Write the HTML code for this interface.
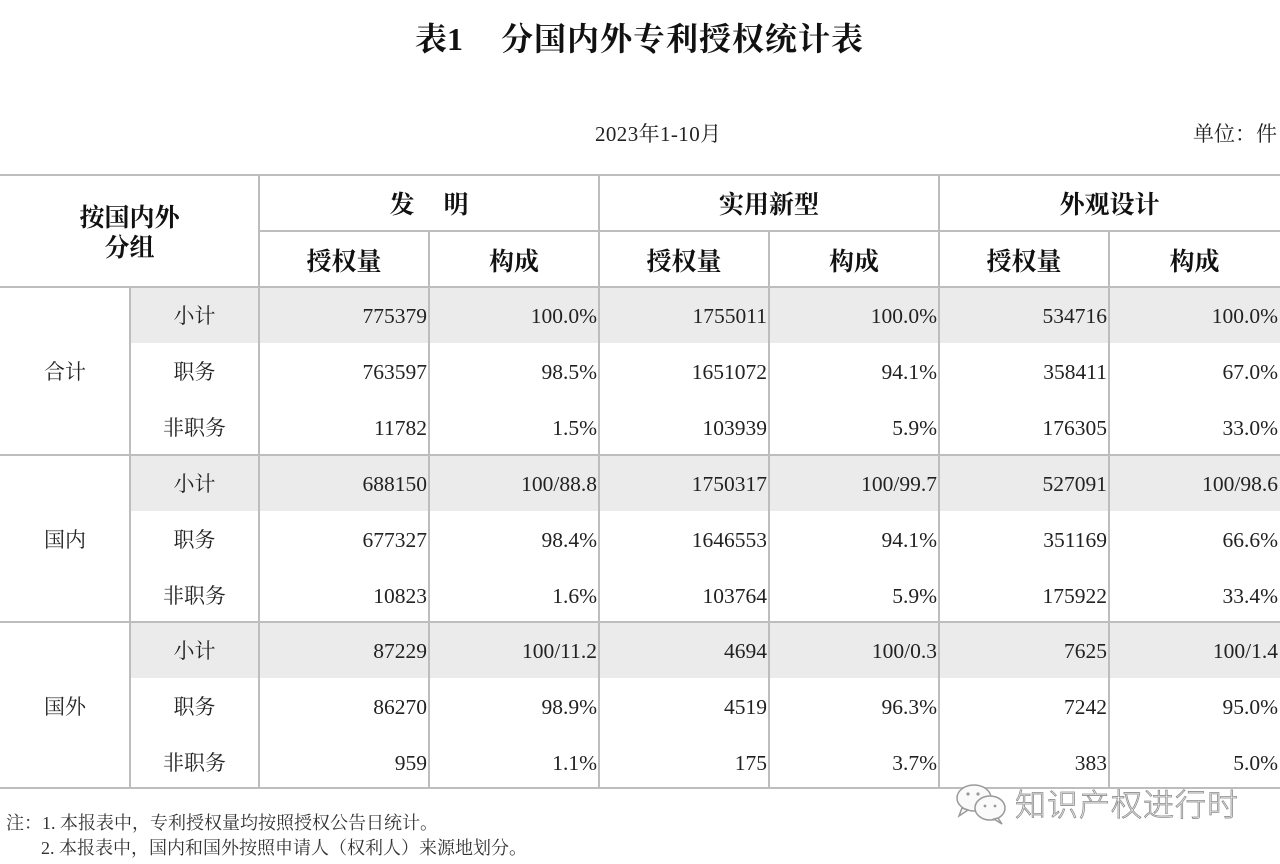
<!DOCTYPE html>
<html>
<head>
<meta charset="utf-8">
<style>
  html, body { margin:0; padding:0; background:#fff; }
  body { width:1280px; height:864px; position:relative; overflow:hidden;
         font-family:"Liberation Serif","Noto Serif CJK SC",serif; color:#1a1a1a; }
  .h { position:absolute; height:2px; background:#bdbdbd; }
  .v { position:absolute; width:2px; background:#bdbdbd; }
  .band { position:absolute; background:#ebebeb; }
  .t { position:absolute; height:30px; line-height:30px; white-space:nowrap; }
  .num { font-size:21.5px; text-align:right; color:#222; }
  .lab { font-size:21px; text-align:center; color:#222; }
  .hd { font-size:25px; font-weight:bold; text-align:center; color:#111; }
</style>
</head>
<body>

<!-- Title -->
<div class="t" style="left:415px; top:22px; height:34px; line-height:34px; font-size:32px; font-weight:bold; color:#111;">表1<span style="display:inline-block;width:38px;"></span><span style="letter-spacing:1px;">分国内外专利授权统计表</span></div>

<div class="t" style="left:595px; top:119px; font-size:21px; letter-spacing:0.4px; color:#222;">2023年1-10月</div>
<div class="t" style="left:1193px; top:119px; font-size:21px; color:#222;">单位：件</div>

<!-- gray bands -->
<div class="band" style="left:131px; top:288px; width:1149px; height:55px;"></div>
<div class="band" style="left:131px; top:456px; width:1149px; height:55px;"></div>
<div class="band" style="left:131px; top:623px; width:1149px; height:55px;"></div>

<!-- horizontal lines -->
<div class="h" style="left:0; top:174px; width:1280px;"></div>
<div class="h" style="left:259px; top:230px; width:1021px;"></div>
<div class="h" style="left:0; top:286px; width:1280px;"></div>
<div class="h" style="left:0; top:454px; width:1280px;"></div>
<div class="h" style="left:0; top:621px; width:1280px;"></div>
<div class="h" style="left:0; top:787px; width:1280px;"></div>

<!-- vertical lines -->
<div class="v" style="left:129px; top:287px; height:501px;"></div>
<div class="v" style="left:258px; top:175px; height:613px;"></div>
<div class="v" style="left:428px; top:231px; height:557px;"></div>
<div class="v" style="left:598px; top:175px; height:613px;"></div>
<div class="v" style="left:768px; top:231px; height:557px;"></div>
<div class="v" style="left:938px; top:175px; height:613px;"></div>
<div class="v" style="left:1108px; top:231px; height:557px;"></div>

<!-- header -->
<div class="t hd" style="left:0; top:204px; width:259px;">按国内外</div>
<div class="t hd" style="left:0; top:234px; width:259px;">分组</div>
<div class="t hd" style="left:259px; top:191px; width:340px;">发<span style="display:inline-block;width:29px;"></span>明</div>
<div class="t hd" style="left:599px; top:191px; width:340px;">实用新型</div>
<div class="t hd" style="left:939px; top:191px; width:341px;">外观设计</div>
<div class="t hd" style="left:259px; top:248px; width:170px;">授权量</div>
<div class="t hd" style="left:429px; top:248px; width:170px;">构成</div>
<div class="t hd" style="left:599px; top:248px; width:170px;">授权量</div>
<div class="t hd" style="left:769px; top:248px; width:170px;">构成</div>
<div class="t hd" style="left:939px; top:248px; width:170px;">授权量</div>
<div class="t hd" style="left:1109px; top:248px; width:171px;">构成</div>

<!-- group labels -->
<div class="t lab" style="left:0; top:357px; width:130px;">合计</div>
<div class="t lab" style="left:0; top:525px; width:130px;">国内</div>
<div class="t lab" style="left:0; top:692px; width:130px;">国外</div>

<!-- row labels -->
<div class="t lab" style="left:130px; top:301px; width:129px;">小计</div>
<div class="t lab" style="left:130px; top:357px; width:129px;">职务</div>
<div class="t lab" style="left:130px; top:413px; width:129px;">非职务</div>
<div class="t lab" style="left:130px; top:469px; width:129px;">小计</div>
<div class="t lab" style="left:130px; top:525px; width:129px;">职务</div>
<div class="t lab" style="left:130px; top:581px; width:129px;">非职务</div>
<div class="t lab" style="left:130px; top:636px; width:129px;">小计</div>
<div class="t lab" style="left:130px; top:692px; width:129px;">职务</div>
<div class="t lab" style="left:130px; top:748px; width:129px;">非职务</div>

<!-- row 1 -->
<div class="t num" style="left:259px; top:301px; width:168px;">775379</div>
<div class="t num" style="left:429px; top:301px; width:168px;">100.0%</div>
<div class="t num" style="left:599px; top:301px; width:168px;">1755011</div>
<div class="t num" style="left:769px; top:301px; width:168px;">100.0%</div>
<div class="t num" style="left:939px; top:301px; width:168px;">534716</div>
<div class="t num" style="left:1109px; top:301px; width:169px;">100.0%</div>
<!-- row 2 -->
<div class="t num" style="left:259px; top:357px; width:168px;">763597</div>
<div class="t num" style="left:429px; top:357px; width:168px;">98.5%</div>
<div class="t num" style="left:599px; top:357px; width:168px;">1651072</div>
<div class="t num" style="left:769px; top:357px; width:168px;">94.1%</div>
<div class="t num" style="left:939px; top:357px; width:168px;">358411</div>
<div class="t num" style="left:1109px; top:357px; width:169px;">67.0%</div>
<!-- row 3 -->
<div class="t num" style="left:259px; top:413px; width:168px;">11782</div>
<div class="t num" style="left:429px; top:413px; width:168px;">1.5%</div>
<div class="t num" style="left:599px; top:413px; width:168px;">103939</div>
<div class="t num" style="left:769px; top:413px; width:168px;">5.9%</div>
<div class="t num" style="left:939px; top:413px; width:168px;">176305</div>
<div class="t num" style="left:1109px; top:413px; width:169px;">33.0%</div>
<!-- row 4 -->
<div class="t num" style="left:259px; top:469px; width:168px;">688150</div>
<div class="t num" style="left:429px; top:469px; width:168px;">100/88.8</div>
<div class="t num" style="left:599px; top:469px; width:168px;">1750317</div>
<div class="t num" style="left:769px; top:469px; width:168px;">100/99.7</div>
<div class="t num" style="left:939px; top:469px; width:168px;">527091</div>
<div class="t num" style="left:1109px; top:469px; width:169px;">100/98.6</div>
<!-- row 5 -->
<div class="t num" style="left:259px; top:525px; width:168px;">677327</div>
<div class="t num" style="left:429px; top:525px; width:168px;">98.4%</div>
<div class="t num" style="left:599px; top:525px; width:168px;">1646553</div>
<div class="t num" style="left:769px; top:525px; width:168px;">94.1%</div>
<div class="t num" style="left:939px; top:525px; width:168px;">351169</div>
<div class="t num" style="left:1109px; top:525px; width:169px;">66.6%</div>
<!-- row 6 -->
<div class="t num" style="left:259px; top:581px; width:168px;">10823</div>
<div class="t num" style="left:429px; top:581px; width:168px;">1.6%</div>
<div class="t num" style="left:599px; top:581px; width:168px;">103764</div>
<div class="t num" style="left:769px; top:581px; width:168px;">5.9%</div>
<div class="t num" style="left:939px; top:581px; width:168px;">175922</div>
<div class="t num" style="left:1109px; top:581px; width:169px;">33.4%</div>
<!-- row 7 -->
<div class="t num" style="left:259px; top:636px; width:168px;">87229</div>
<div class="t num" style="left:429px; top:636px; width:168px;">100/11.2</div>
<div class="t num" style="left:599px; top:636px; width:168px;">4694</div>
<div class="t num" style="left:769px; top:636px; width:168px;">100/0.3</div>
<div class="t num" style="left:939px; top:636px; width:168px;">7625</div>
<div class="t num" style="left:1109px; top:636px; width:169px;">100/1.4</div>
<!-- row 8 -->
<div class="t num" style="left:259px; top:692px; width:168px;">86270</div>
<div class="t num" style="left:429px; top:692px; width:168px;">98.9%</div>
<div class="t num" style="left:599px; top:692px; width:168px;">4519</div>
<div class="t num" style="left:769px; top:692px; width:168px;">96.3%</div>
<div class="t num" style="left:939px; top:692px; width:168px;">7242</div>
<div class="t num" style="left:1109px; top:692px; width:169px;">95.0%</div>
<!-- row 9 -->
<div class="t num" style="left:259px; top:748px; width:168px;">959</div>
<div class="t num" style="left:429px; top:748px; width:168px;">1.1%</div>
<div class="t num" style="left:599px; top:748px; width:168px;">175</div>
<div class="t num" style="left:769px; top:748px; width:168px;">3.7%</div>
<div class="t num" style="left:939px; top:748px; width:168px;">383</div>
<div class="t num" style="left:1109px; top:748px; width:169px;">5.0%</div>

<!-- notes -->
<div class="t" style="left:6px; top:808px; font-size:18px; color:#333;">注：1. 本报表中，专利授权量均按照授权公告日统计。</div>
<div class="t" style="left:41px; top:833px; font-size:18px; color:#333;">2. 本报表中，国内和国外按照申请人（权利人）来源地划分。</div>

<!-- watermark -->
<svg style="position:absolute; left:954px; top:782px;" width="56" height="44" viewBox="0 0 56 44">
  <g fill="#fafafa" stroke="#9a9a9a" stroke-width="1.5">
    <ellipse cx="20" cy="16" rx="17" ry="13"/>
    <path d="M8 26 L5 34 L14 28 Z"/>
    <ellipse cx="36" cy="26" rx="15" ry="12"/>
    <path d="M44 36 L48 42 L40 37 Z"/>
  </g>
  <g fill="#999">
    <circle cx="14" cy="12" r="1.6"/><circle cx="24" cy="12" r="1.6"/>
    <circle cx="31" cy="24" r="1.4"/><circle cx="41" cy="24" r="1.4"/>
  </g>
</svg>
<div class="t" style="left:1015px; top:788px; height:36px; line-height:36px; font-size:31px; letter-spacing:1px; font-family:'Liberation Sans','Noto Sans CJK SC',sans-serif; font-weight:300; color:#f6f6f6; -webkit-text-stroke:0.8px #8c8c8c;">知识产权进行时</div>

</body>
</html>
